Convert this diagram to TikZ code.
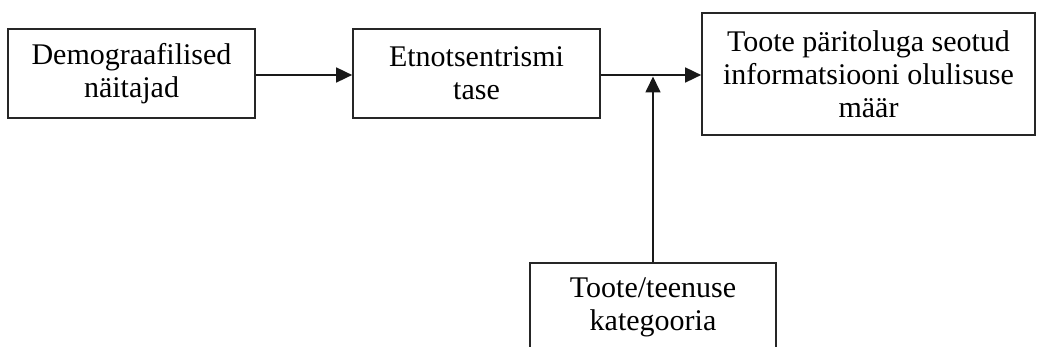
\documentclass[tikz,border=0pt]{standalone}
\usepackage{fontspec}
\setmainfont{Liberation Serif}
\usetikzlibrary{arrows.meta}
\begin{document}
\begin{tikzpicture}[x=1pt,y=-1pt,
  box/.style={draw=black!85, line width=1.7pt, fill=white, align=center, inner sep=0pt,
    font=\fontsize{30}{33}\selectfont},
  conn/.style={draw=black!90, line width=1.7pt, -{Triangle[length=16pt,width=15pt]}}]
\clip (0,0) rectangle (1037,347);
\fill[white] (0,0) rectangle (1037,347);
\node[box, minimum width=247pt, minimum height=89pt] (demo) at (131.5,73.5) {Demograafilised\\näitajad};
\node[box, minimum width=247pt, minimum height=89pt] (etno) at (476.5,73.5) {Etnotsentrismi\\tase};
\node[box, minimum width=333pt, minimum height=122pt] (info) at (868.5,74) {Toote päritoluga seotud\\informatsiooni olulisuse\\määr};
\node[box, minimum width=246pt, minimum height=89pt] (kat) at (653,307.5) {Toote/teenuse\\kategooria};
\draw[conn] ([yshift=-1.5pt]demo.east) -- ([yshift=-1.5pt]demo.east -| etno.west);
\draw[conn] ([yshift=-1.5pt]etno.east) -- ([yshift=-1.5pt]etno.east -| info.west);
\coordinate (join) at ([yshift=-3pt]kat.north |- etno.east);
\draw[conn] (kat.north) -- (join);
\end{tikzpicture}
\end{document}
